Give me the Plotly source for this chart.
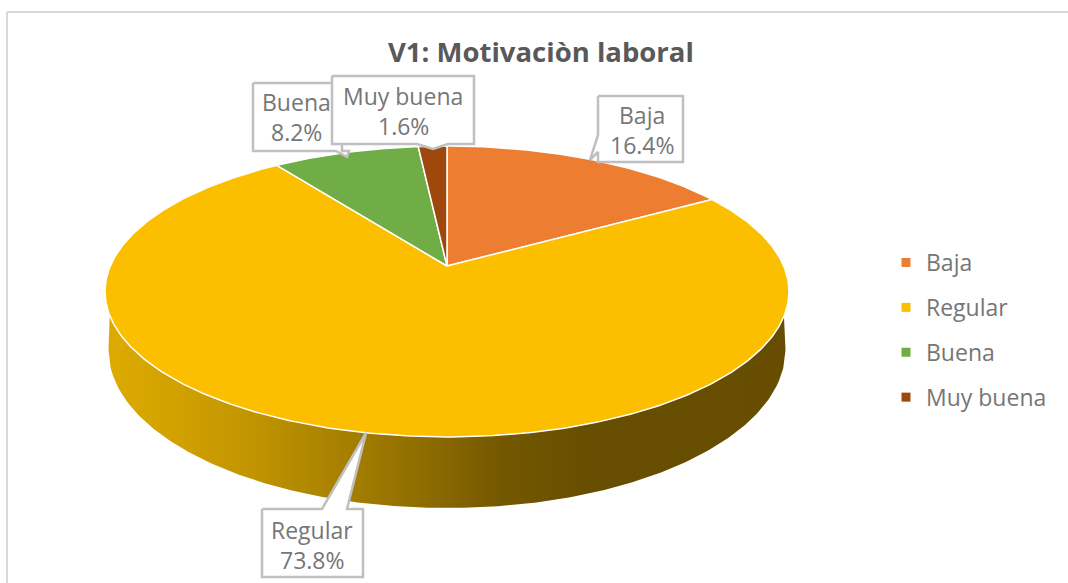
import numpy as np
import plotly.graph_objects as go

# --- data
categories = ["Baja", "Regular", "Buena", "Muy buena"]
values = [16.4, 73.8, 8.2, 1.6]
title_text = "V1: Motivaciòn laboral"

# --- styles
colors = ["#ED7D31", "#FCBF00", "#70AD47", "#9E480E"]
TXT = "#767676"
FONT = "Open Sans"
W, H = 1068, 583

# projection of the pie disc (pixel plane)
CX, CY, A, B, K = 447.0, 266.0, 336.7, 141.0, 0.175


def project(theta):
    u, v = np.sin(theta), np.cos(theta)
    d = 1 + K * v
    return CX + A * u / d, CY - B * v / d


fig = go.Figure()

# frame lines
fig.add_shape(type="line", x0=7, x1=7, y0=12, y1=H, line=dict(color="#D9D9D9", width=2), layer="below")
fig.add_shape(type="line", x0=7, x1=W, y0=12, y1=12, line=dict(color="#D9D9D9", width=2), layer="below")

total = sum(values)
edges = np.concatenate([[0], np.cumsum(values)]) / total * 2 * np.pi

# wall of the Regular slice
t = np.linspace(edges[1], edges[2], 500)
rx, ry = project(t)
keep = ry >= 315
wall_top_x, wall_top_y = rx[keep], ry[keep]
bx = np.linspace(785.5, 108.5, 300)
by = 350 + 158 * np.sqrt(np.clip(1 - ((bx - CX) / 338.5) ** 2, 0, 1))
wall_x = np.concatenate([wall_top_x, bx[::-1]])
wall_y = np.concatenate([wall_top_y, by[::-1]])
fig.add_trace(go.Scatter(
    x=wall_x, y=wall_y, mode="lines", line=dict(width=0), fill="toself",
    fillgradient=dict(type="horizontal", colorscale=[
        [0.00, "#DDAA00"], [0.10, "#D2A100"], [0.20, "#C39600"], [0.38, "#A07B00"],
        [0.58, "#745800"], [0.70, "#684E00"], [1.00, "#664D00"]]),
    hoverinfo="skip", showlegend=False))

# top of the pie
for i, (name, col) in enumerate(zip(categories, colors)):
    n = max(int((edges[i + 1] - edges[i]) * 80), 8)
    th = np.linspace(edges[i], edges[i + 1], n)
    px, py = project(th)
    fig.add_trace(go.Scatter(
        x=np.concatenate([[CX], px, [CX]]), y=np.concatenate([[CY], py, [CY]]),
        mode="lines", line=dict(color="white", width=1.5), fill="toself", fillcolor=col,
        name=name, hoverinfo="name", showlegend=False))

# callouts: box and pointer outline
outlines = {
    "Buena": [(253, 83), (342, 83), (342, 151), (349, 151), (347, 157), (336, 151), (253, 151)],
    "Muy buena": [(332, 76), (474, 76), (474, 144), (448, 144), (433, 149), (417, 144), (332, 144)],
    "Baja": [(598, 96), (683, 96), (683, 162), (598, 162), (598, 152), (590, 160), (598, 135)],
    "Regular": [(262, 509), (322, 509), (366, 433), (347, 509), (363, 509), (363, 577), (262, 577)],
}
text_pos = {
    "Buena": (296, 102, 132),
    "Muy buena": (403, 96, 126),
    "Baja": (642, 115, 145),
    "Regular": (312, 530, 560),
}
for name in ["Regular", "Baja", "Buena", "Muy buena"]:
    pts = outlines[name] + [outlines[name][0]]
    fig.add_trace(go.Scatter(
        x=[p[0] for p in pts], y=[p[1] for p in pts], mode="lines",
        line=dict(color="#C0C0C0", width=2.5), fill="toself", fillcolor="white",
        hoverinfo="skip", showlegend=False))

annotations = []
for name, val in zip(categories, values):
    x, y1, y2 = text_pos[name]
    for txt, yy in ((name, y1), (f"{val:.1f}%", y2)):
        annotations.append(dict(x=x, y=yy, text=txt, showarrow=False, xanchor="center", yanchor="middle",
                                font=dict(family=FONT, size=23, color=TXT)))
annotations.append(dict(x=541, y=51, text=f"<b>{title_text}</b>", showarrow=False, xanchor="center",
                        yanchor="middle", font=dict(family=FONT, size=27.5, color="#595959")))

# legend entries
for name, col in zip(categories, colors):
    fig.add_trace(go.Scatter(
        x=[None], y=[None], mode="markers", name=name, legendgroup=name,
        marker=dict(symbol="square", size=9, color=col)))

fig.update_layout(
    width=W, height=H, margin=dict(l=0, r=0, t=0, b=0),
    paper_bgcolor="white", plot_bgcolor="white",
    xaxis=dict(range=[0, W], visible=False, fixedrange=True),
    yaxis=dict(range=[H, 0], visible=False, fixedrange=True),
    annotations=annotations,
    legend=dict(x=886 / W, y=1 - 241 / H, xanchor="left", yanchor="top",
                font=dict(family=FONT, size=23, color=TXT),
                tracegroupgap=12, itemwidth=30, bgcolor="rgba(0,0,0,0)"),
)
fig.write_html("out.html", config={"displayModeBar": False},
               post_script="document.body.style.margin='0';document.body.style.overflow='hidden';")
